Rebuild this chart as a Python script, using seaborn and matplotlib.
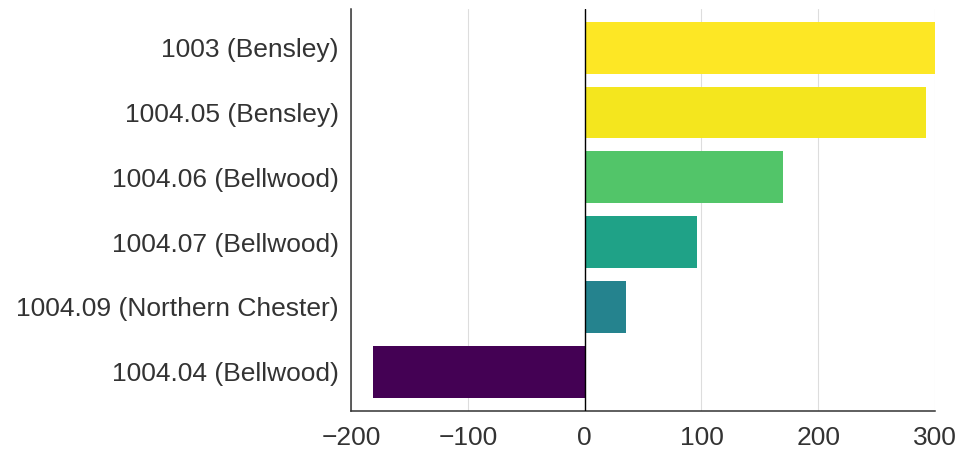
import pandas as pd
import numpy as np
import matplotlib.pyplot as plt
import matplotlib as mpl
import seaborn as sns

# Données
tracts = ['1003 (Bensley)', '1004.05 (Bensley)', '1004.06 (Bellwood)',
          '1004.07 (Bellwood)', '1004.09 (Northern Chester)', '1004.04 (Bellwood)']
values = [300, 292, 170, 96, 35, -181]

df = pd.DataFrame({'tract': tracts, 'value': values})

sns.set_style('white')
plt.rcParams['font.family'] = ['Liberation Sans', 'DejaVu Sans']

# Couleurs viridis selon la valeur
norm = mpl.colors.Normalize(vmin=min(values), vmax=max(values))
palette = {t: plt.cm.viridis(norm(v)) for t, v in zip(tracts, values)}

fig = plt.figure(figsize=(9.62, 4.51), dpi=100)
ax = fig.add_axes([0.365, 0.0894, 0.607, 0.891])

sns.barplot(data=df, y='tract', x='value', hue='tract', palette=palette,
            order=tracts, legend=False, width=0.8, saturation=1, ax=ax,
            edgecolor='none')

ax.axvline(0, color='black', lw=1, zorder=3)
ax.set_xlim(-200, 300)
ax.set_ylim(5.6, -0.6)
ax.set_xticks([-200, -100, 0, 100, 200, 300])
ax.xaxis.grid(True, color='#dddddd', lw=0.8)
ax.set_axisbelow(True)

for s in ['top', 'right']:
    ax.spines[s].set_visible(False)
for s in ['left', 'bottom']:
    ax.spines[s].set_color('#333333')
    ax.spines[s].set_linewidth(1.1)

ax.tick_params(axis='both', length=6, width=1, colors='#333333',
               labelsize=19, labelcolor='#333333', pad=3, direction='out')
ax.tick_params(axis='x', pad=5)
ax.set_xlabel('')
ax.set_ylabel('')

plt.savefig('out.png', dpi=100)
